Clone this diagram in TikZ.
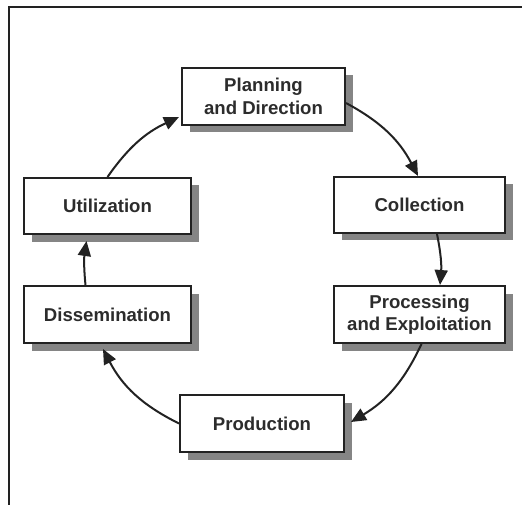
\documentclass[tikz,border=0pt]{standalone}
\usepackage{fontspec}
\setmainfont{Liberation Sans}
\usetikzlibrary{arrows.meta,shadows}
\definecolor{ink}{HTML}{222222}
\definecolor{txt}{HTML}{2C2C2C}
\definecolor{shade}{HTML}{858585}
\begin{document}
\begin{tikzpicture}[x=1pt,y=1pt,
  stage/.style={draw=ink, line width=2pt, fill=white, align=center,
    text=txt, font=\bfseries\fontsize{18.6}{22.5}\selectfont, inner sep=0pt,
    drop shadow={shadow xshift=7.5pt, shadow yshift=-7.5pt, fill=shade, opacity=1}},
  flow/.style={draw=ink, line width=2pt,
    -{Triangle[length=15pt,width=13pt]}},
  frame/.style={draw=ink, line width=1.4pt}]
  \useasboundingbox (0,0) rectangle (522,-505);

  % open frame: top and left rules
  \coordinate (f1) at (9,-505);
  \coordinate (f2) at (9,-7);
  \coordinate (f3) at (522,-7);
  \draw[frame] (f1) -- (f2) -- (f3);

  % the six stages of the cycle
  \node[stage, minimum width=163pt, minimum height=57pt] (plan) at (263.5,-96.5) {Planning\\and Direction};
  \node[stage, minimum width=171pt, minimum height=56pt] (coll) at (419.5,-205) {Collection};
  \node[stage, minimum width=171pt, minimum height=57pt] (proc) at (419.5,-314.5) {Processing\\and Exploitation};
  \node[stage, minimum width=164pt, minimum height=57pt] (prod) at (262,-423.5) {Production};
  \node[stage, minimum width=167pt, minimum height=57pt] (diss) at (107.5,-314.5) {Dissemination};
  \node[stage, minimum width=167pt, minimum height=56pt] (util) at (107.5,-206) {Utilization};

  % clockwise flow between stages
  \draw[flow] ([yshift=-6.5pt]plan.east) to[bend left=17] ([xshift=-1.5pt]coll.north);
  \draw[flow] ([xshift=17.5pt]coll.south) to[bend left=8] ([xshift=20.5pt]proc.north);
  \draw[flow] ([xshift=2pt]proc.south) to[bend left=17] ([xshift=6pt,yshift=1.5pt]prod.east);
  \draw[flow] (prod.west) to[bend left=18] ([xshift=-4.5pt,yshift=-5pt]diss.south);
  \draw[flow] ([xshift=-22pt]diss.north) to[bend left=7] ([xshift=-21pt,yshift=-6pt]util.south);
  \draw[flow] (util.north) to[bend left=15] ([xshift=-2pt,yshift=-20.5pt]plan.west);
\end{tikzpicture}
\end{document}
